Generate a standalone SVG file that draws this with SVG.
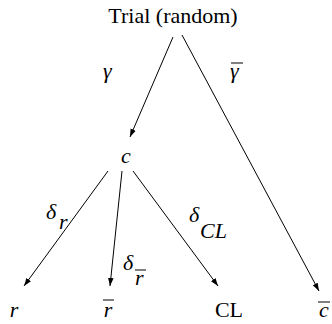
<svg xmlns="http://www.w3.org/2000/svg" width="332" height="324" viewBox="0 0 332 324">
<defs>
<marker id="arr" viewBox="0 0 10 10" refX="10" refY="5" markerWidth="8" markerHeight="8" orient="auto" markerUnits="userSpaceOnUse">
<path d="M0,1.5 L10,5 L0,8.5 Z" fill="#000"/>
</marker>
</defs>
<style>
.edge{stroke:#000;stroke-width:1;fill:none}
.bar{stroke:#000;stroke-width:1}
.up{font-style:normal}
.it{font-style:italic}
</style>
<rect width="332" height="324" fill="#fff"/>
<g id="connectors" class="edge" marker-end="url(#arr)">
<line x1="173" y1="37" x2="130" y2="137"/>
<line x1="182" y1="35" x2="319" y2="291"/>
<line x1="108" y1="171" x2="24" y2="286"/>
<line x1="122" y1="171" x2="110" y2="286"/>
<line x1="133" y1="171" x2="218" y2="286"/>
</g>
<g font-family="'Liberation Serif', 'Times New Roman', serif" font-size="22" fill="#000">
<g id="edge-labels" class="it">
<text x="103" y="78">γ</text>
<text x="230" y="78">γ</text>
<line class="bar" x1="231" y1="63" x2="243" y2="63"/>
<text x="46" y="219">δ</text><text x="59" y="229">r</text>
<text x="189" y="222">δ</text><text x="200" y="238">CL</text>
<text x="123" y="270">δ</text><text x="135" y="285">r</text>
<line class="bar" x1="135" y1="270" x2="146" y2="270"/>
</g>
<g id="node-trial"><text x="173" y="23" text-anchor="middle">Trial (random)</text></g>
<g id="node-c" class="it"><text x="126" y="163" text-anchor="middle">c</text></g>
<g id="node-r" class="it"><text x="14" y="317" text-anchor="middle">r</text></g>
<g id="node-rbar" class="it"><text x="108" y="317" text-anchor="middle">r</text><line class="bar" x1="103" y1="300" x2="114" y2="300"/></g>
<g id="node-cl"><text x="229" y="317" text-anchor="middle">CL</text></g>
<g id="node-cbar" class="it"><text x="324" y="317" text-anchor="middle">c</text><line class="bar" x1="318" y1="302" x2="330" y2="302"/></g>
</g>
</svg>
